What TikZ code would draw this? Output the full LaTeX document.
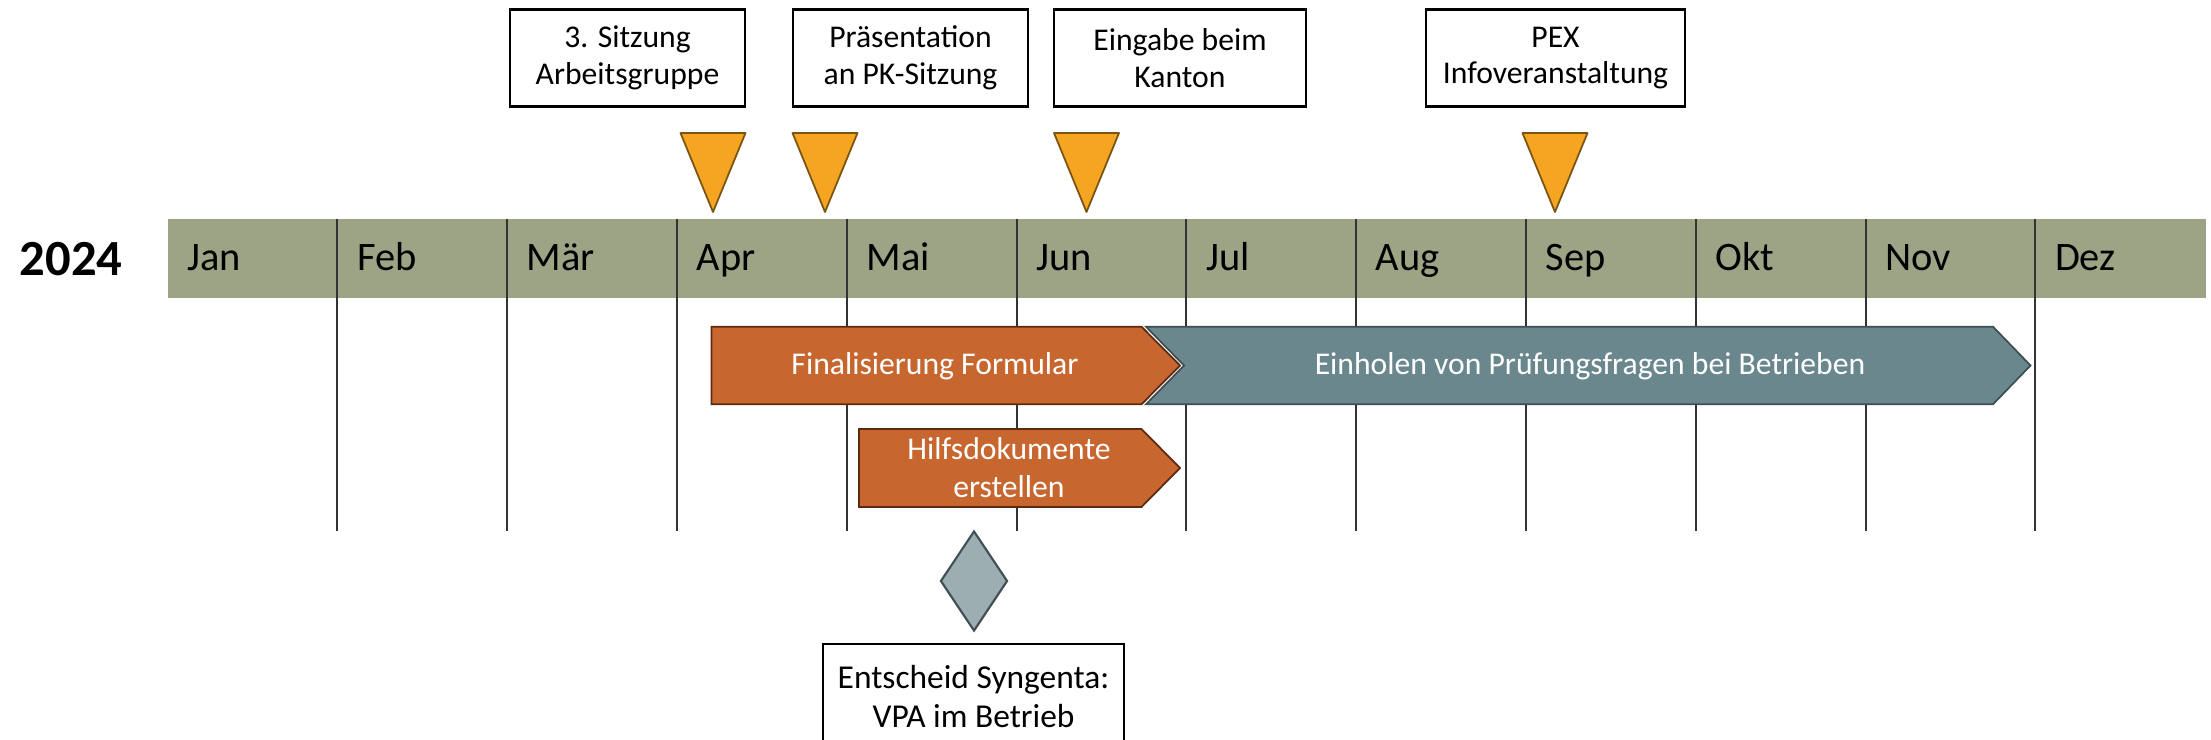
\documentclass[tikz,border=0pt]{standalone}
\usepackage{fontspec}
\setmainfont{Carlito}
\usepackage{tikz}
\usetikzlibrary{shapes,arrows,positioning,calc}

\definecolor{bandgreen}{HTML}{9DA485}
\definecolor{markorange}{HTML}{F5A521}
\definecolor{markedge}{HTML}{7A5410}
\definecolor{taskorange}{HTML}{C7672F}
\definecolor{taskedge}{HTML}{5C2A10}
\definecolor{taskgrey}{HTML}{6B878E}
\definecolor{greyedge}{HTML}{3F4F53}
\definecolor{decisiongrey}{HTML}{9CAEB2}

\begin{document}
\begin{tikzpicture}[x=0.01cm,y=-0.01cm,
    infobox/.style={draw=black,line width=0.6pt,fill=white,align=center,
      font=\fontsize{9}{10.4}\selectfont,inner sep=0pt},
    monthlabel/.style={anchor=base west,font=\fontsize{11.5}{13}\selectfont,inner sep=0pt},
    tasklabel/.style={text=white,align=center,font=\fontsize{9}{10.8}\selectfont,inner sep=0pt},
    marker/.style={fill=markorange,draw=markedge,line width=0.5pt,line join=round},
    monthline/.style={draw=black!80,line width=0.6pt}]

\clip (0,0) rectangle (2211,739);

% Jahresband mit Monaten
\fill[bandgreen] (167.6,219) rectangle (2205.5,298);
\node[font=\fontsize{14.4}{16}\selectfont\bfseries] (year) at (71,259) {2024};
\foreach \m [count=\i from 0] in {Jan,Feb,Mär,Apr,Mai,Jun,Jul,Aug,Sep,Okt,Nov,Dez}
    \node[monthlabel] (m\i) at (167.6+\i*169.8+19,270) {\m};
\foreach \i in {1,...,11}
    \draw[monthline] (167.6+\i*169.8,219) -- (167.6+\i*169.8,531);

% Meilensteine oben
\node[infobox,minimum width=2.35cm,minimum height=0.97cm] (sitzung) at (627.5,58) {3. Sitzung\\Arbeitsgruppe};
\node[infobox,minimum width=2.35cm,minimum height=0.97cm] (praesentation) at (910.5,58) {Präsentation\\an PK-Sitzung};
\node[infobox,minimum width=2.52cm,minimum height=0.97cm] (eingabe) at (1180,58) {Eingabe beim\\Kanton};
\node[infobox,minimum width=2.59cm,minimum height=0.97cm] (pex) at (1555.5,58) {PEX\\Infoveranstaltung};
\foreach \x in {713,825,1086.5,1555}
    \filldraw[marker] (\x-32.5,133) -- (\x+32.5,133) -- (\x,212) -- cycle;

% Aufgaben
\filldraw[fill=taskorange,draw=taskedge,line width=0.5pt] (711.6,326.7) -- (1141.5,326.7) -- (1180,365.5) -- (1141.5,404.3) -- (711.6,404.3) -- cycle;
\filldraw[fill=taskorange,draw=taskedge,line width=0.5pt] (859,429) -- (1141.5,429) -- (1180,468) -- (1141.5,507) -- (859,507) -- cycle;
\filldraw[fill=taskgrey,draw=greyedge,line width=0.5pt] (1146,326.7) -- (1993,326.7) -- (2030.5,365.5) -- (1993,404.3) -- (1146,404.3) -- (1184,365.5) -- cycle;
\node[tasklabel] (formular) at (935,366) {Finalisierung Formular};
\node[tasklabel] (hilfsdok) at (1009,468) {Hilfsdokumente\\erstellen};
\node[tasklabel] (einholen) at (1590,366) {Einholen von Prüfungsfragen bei Betrieben};

% Entscheid unten
\node[diamond,draw=greyedge,fill=decisiongrey,line width=0.6pt,minimum width=0.67cm,
    minimum height=1cm,inner sep=0pt] (decision) at (974,581) {};
\node[infobox,font=\fontsize{9.5}{11}\selectfont,anchor=north,minimum width=3.01cm,
    minimum height=1.05cm] (syngenta) at (973.5,643) {Entscheid Syngenta:\\VPA im Betrieb};
\end{tikzpicture}
\end{document}
